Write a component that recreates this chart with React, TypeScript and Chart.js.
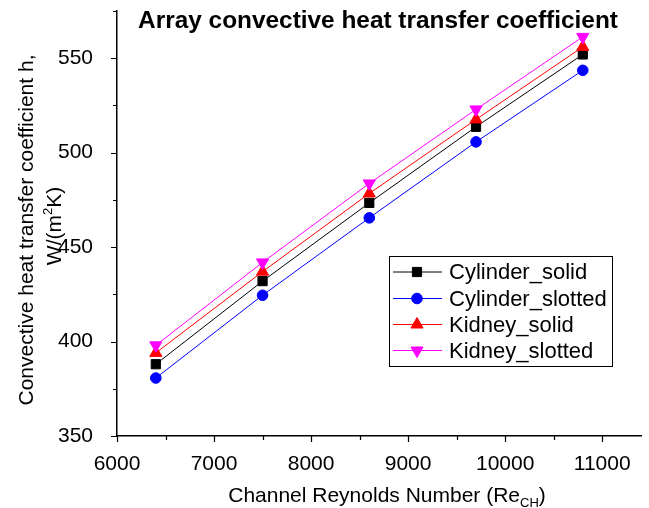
import React, { useEffect, useRef } from 'react';
import { Chart, registerables } from 'chart.js';
import { drawPoint } from 'chart.js/helpers';

Chart.register(...registerables);

const reynolds = [6400, 7500, 8600, 9700, 10800];
const cylinderSolid = [388, 432, 473.4, 513.7, 552];
const cylinderSlotted = [380.7, 424.5, 465.5, 505.7, 543.6];
const kidneySolid = [394, 437, 478.4, 517.6, 556];
const kidneySlotted = [398, 441.9, 483.7, 522.9, 561.3];
const seriesNames = ['Cylinder_solid', 'Cylinder_slotted', 'Kidney_solid', 'Kidney_slotted'];
const xRange = [6000, 11400];
const yRange = [350, 575];
const xTickValues = [6000, 7000, 8000, 9000, 10000, 11000];
const yTickValues = [350, 400, 450, 500, 550];
const chartTitle = 'Array convective heat transfer coefficient';
const xTitle = ['Channel Reynolds Number (Re', 'CH', ')'];
const yTitleLine1 = 'Convective heat transfer coefficient h,';
const yTitleLine2 = ['W/(m', '2', 'K)'];

const FONT = '"Liberation Sans", Arial, Helvetica, sans-serif';

const decorPlugin = {
  id: 'decor',
  afterDraw(chart: any) {
    const ctx = chart.ctx as CanvasRenderingContext2D;
    const xs = chart.scales.x;
    const ys = chart.scales.y;
    const area = chart.chartArea;
    ctx.save();
    // ticks
    ctx.strokeStyle = '#000';
    ctx.lineWidth = 1.2;
    ctx.beginPath();
    for (let v = xRange[0]; v <= xRange[1]; v += 500) {
      const px = Math.round(xs.getPixelForValue(v)) + 0.5;
      const len = v % 1000 === 0 ? 6 : 4;
      ctx.moveTo(px, area.bottom);
      ctx.lineTo(px, area.bottom + len);
    }
    for (let v = yRange[0]; v <= yRange[1]; v += 25) {
      const py = Math.round(ys.getPixelForValue(v)) + 0.5;
      const len = v % 50 === 0 ? 6 : 4;
      ctx.moveTo(area.left, py);
      ctx.lineTo(area.left - len, py);
    }
    ctx.stroke();

    ctx.fillStyle = '#000';
    // chart title
    ctx.font = `bold 24.4px ${FONT}`;
    ctx.textAlign = 'center';
    ctx.textBaseline = 'alphabetic';
    ctx.fillText(chartTitle, 378, 28);

    // x axis title with subscript
    ctx.textAlign = 'left';
    const big = `21px ${FONT}`;
    const small = `13px ${FONT}`;
    ctx.font = big;
    const w1 = ctx.measureText(xTitle[0]).width;
    const w3 = ctx.measureText(xTitle[2]).width;
    ctx.font = small;
    const w2 = ctx.measureText(xTitle[1]).width;
    let sx = 387 - (w1 + w2 + w3) / 2;
    const by = 502;
    ctx.font = big;
    ctx.fillText(xTitle[0], sx, by);
    sx += w1;
    ctx.font = small;
    ctx.fillText(xTitle[1], sx, by + 5);
    sx += w2;
    ctx.font = big;
    ctx.fillText(xTitle[2], sx, by);

    // y axis title
    ctx.save();
    ctx.translate(33, 230);
    ctx.rotate(-Math.PI / 2);
    ctx.font = big;
    ctx.textAlign = 'center';
    ctx.fillText(yTitleLine1, 0, 0);
    ctx.restore();

    ctx.save();
    ctx.translate(61, 226);
    ctx.rotate(-Math.PI / 2);
    ctx.textAlign = 'left';
    ctx.font = big;
    const a1 = ctx.measureText(yTitleLine2[0]).width;
    const a3 = ctx.measureText(yTitleLine2[2]).width;
    ctx.font = small;
    const a2 = ctx.measureText(yTitleLine2[1]).width;
    let tx = -(a1 + a2 + a3) / 2;
    ctx.font = big;
    ctx.fillText(yTitleLine2[0], tx, 0);
    tx += a1;
    ctx.font = small;
    ctx.fillText(yTitleLine2[1], tx, -9);
    tx += a2;
    ctx.font = big;
    ctx.fillText(yTitleLine2[2], tx, 0);
    ctx.restore();

    // legend
    ctx.lineWidth = 1;
    ctx.strokeStyle = '#000';
    ctx.strokeRect(389.5, 256.5, 223, 110);
    const rowY = [272, 298.5, 324.5, 350.5];
    chart.data.datasets.forEach((ds: any, i: number) => {
      const y = rowY[i];
      ctx.strokeStyle = ds.borderColor;
      ctx.lineWidth = 1;
      ctx.beginPath();
      ctx.moveTo(393, y);
      ctx.lineTo(442, y);
      ctx.stroke();
      ctx.fillStyle = ds.pointBackgroundColor;
      ctx.strokeStyle = ds.pointBorderColor;
      drawPoint(ctx, {
        pointStyle: ds.pointStyle,
        rotation: ds.pointRotation || 0,
        radius: ds.pointRadius,
        borderWidth: 1,
      } as any, 417, y);
      ctx.fillStyle = '#000';
      ctx.font = `22px ${FONT}`;
      ctx.textAlign = 'left';
      ctx.textBaseline = 'middle';
      ctx.fillText(ds.label, 449, y + 1);
    });
    ctx.restore();
  },
};

export default function App() {
  const canvasRef = useRef<HTMLCanvasElement | null>(null);

  useEffect(() => {
    const canvas = canvasRef.current;
    if (!canvas) return;
    const toPoints = (arr: number[]) => reynolds.map((x, i) => ({ x, y: arr[i] }));
    const mk = (label: string, arr: number[], color: string, style: string, radius: number, rot: number, order: number) => ({
      label,
      data: toPoints(arr),
      borderColor: color,
      backgroundColor: color,
      pointBackgroundColor: color,
      pointBorderColor: color,
      pointStyle: style,
      pointRadius: radius,
      pointRotation: rot,
      pointBorderWidth: 1,
      borderWidth: 1,
      tension: 0,
      order,
      clip: false,
    });
    const chart = new Chart(canvas, {
      type: 'line',
      data: {
        datasets: [
          mk(seriesNames[0], cylinderSolid, '#000000', 'rect', 6.5, 0, 3),
          mk(seriesNames[1], cylinderSlotted, '#0000ff', 'circle', 5.3, 0, 2),
          mk(seriesNames[2], kidneySolid, '#ff0000', 'triangle', 7, 0, 1),
          mk(seriesNames[3], kidneySlotted, '#ff00ff', 'triangle', 7, 180, 0),
        ] as any,
      },
      options: {
        responsive: false,
        animation: false,
        devicePixelRatio: 1,
        layout: { padding: { top: 11, left: 0, right: 0, bottom: 0 } },
        plugins: {
          legend: { display: false },
          title: { display: false },
          tooltip: { enabled: false },
        },
        scales: {
          x: {
            type: 'linear',
            min: xRange[0],
            max: xRange[1],
            grid: { display: false },
            border: { display: true, color: '#000', width: 1.5 },
            afterBuildTicks: (s: any) => {
              s.ticks = xTickValues.map((v) => ({ value: v }));
            },
            ticks: {
              autoSkip: false,
              maxRotation: 0,
              padding: 8,
              color: '#000',
              font: { family: FONT, size: 21 },
              callback: (v: any) => String(v),
            },
            afterFit: (s: any) => {
              s.height = 72;
              s.paddingLeft = 0;
              s.paddingRight = 0;
            },
          },
          y: {
            type: 'linear',
            min: yRange[0],
            max: yRange[1],
            grid: { display: false },
            border: { display: true, color: '#000', width: 1.5 },
            afterBuildTicks: (s: any) => {
              s.ticks = yTickValues.map((v) => ({ value: v }));
            },
            ticks: {
              autoSkip: false,
              padding: 16,
              color: '#000',
              font: { family: FONT, size: 21 },
              callback: (v: any) => String(v),
            },
            afterFit: (s: any) => {
              s.width = 117;
              s.paddingTop = 0;
              s.paddingBottom = 0;
            },
          },
        },
      } as any,
      plugins: [decorPlugin],
    });
    return () => chart.destroy();
  }, []);

  return (
    <div style={{ position: 'fixed', left: 0, top: 0, width: 649, height: 508, background: '#fff' }}>
      <canvas ref={canvasRef} width={649} height={508} style={{ display: 'block' }} />
    </div>
  );
}
